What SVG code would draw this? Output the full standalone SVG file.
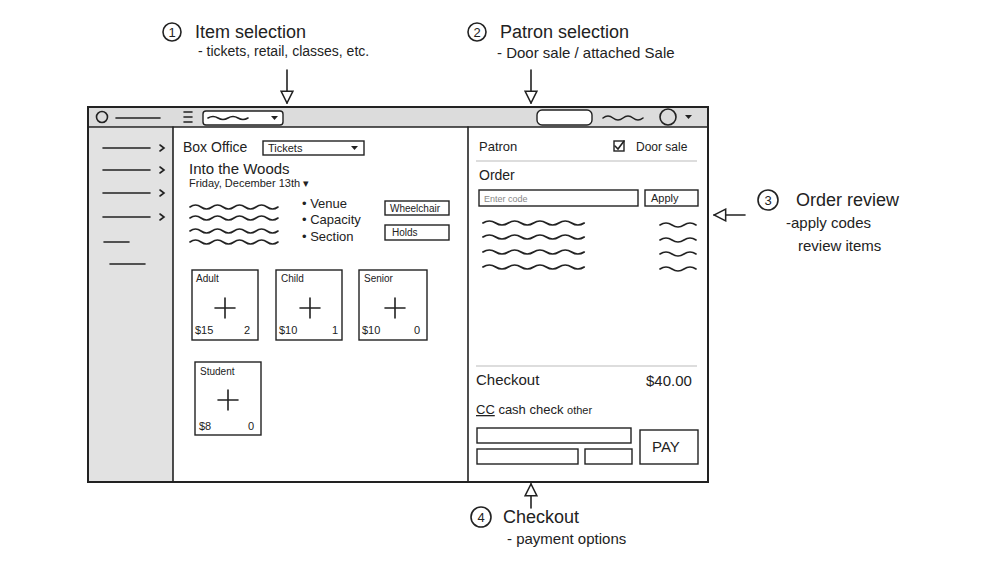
<svg xmlns="http://www.w3.org/2000/svg" width="1000" height="574" viewBox="0 0 1000 574">
<style>
.t{font-family:"Liberation Sans",Arial,sans-serif;fill:#222}
.s{stroke:#222;stroke-width:1.6;fill:none;stroke-linecap:round}
.b{stroke:#222;stroke-width:1.4;fill:#fff}
</style>
<defs>
<marker id="ah" viewBox="0 0 12 12" refX="11" refY="6" markerWidth="14" markerHeight="14" markerUnits="userSpaceOnUse" orient="auto"><path d="M1,1 L11,6 L1,11 Z" fill="#fff" stroke="#222" stroke-width="1.3"/></marker>
<path id="sq" d="M0,0 q5.5,-4 11,0 t11,0 t11,0 t11,0 t11,0 t11,0 t11,0 t11,0" class="s"/>
</defs>
<rect width="1000" height="574" fill="#fff"/>
<g id="window">
<rect x="88" y="107" width="620" height="375" fill="#fff" stroke="#222" stroke-width="2"/>
<rect x="89" y="108" width="618" height="19" fill="#dcdcdc"/>
<line x1="88" y1="127" x2="708" y2="127" class="s"/>
<rect x="89" y="128" width="84" height="353" fill="#e2e2e2"/>
<line x1="173" y1="127" x2="173" y2="482" class="s"/>
<line x1="468" y1="127" x2="468" y2="482" class="s"/>
<circle cx="102" cy="117" r="5.5" class="s"/>
<line x1="116" y1="118" x2="160" y2="118" class="s"/>
<path d="M184,112h8M184,117h8M184,122h8" class="s"/>
<rect x="203" y="111" width="80" height="14" rx="3" class="b"/>
<path d="M208,118 q5,-3 10,0 t10,0 t10,0 t10,0" class="s"/>
<path d="M271,116 h7 l-3.5,4z" fill="#222"/>
<rect x="537" y="110" width="55" height="15" rx="5" class="b"/>
<path d="M603,118 q5,-4 10,0 t10,0 t10,0 t10,0" class="s"/>
<circle cx="668" cy="117" r="8" class="s"/>
<path d="M685,115 h7 l-3.5,4z" fill="#222"/>
</g>
<g id="sidebar">
<path d="M103,148h47M103,170h47M103,193h47M103,217h47M104,242h25M110,264h35" class="s"/>
<path d="M160,145l4,3-4,3M160,167l4,3-4,3M160,190l4,3-4,3M160,214l4,3-4,3" class="s"/>
</g>
<g id="main">
<text x="183" y="152" class="t" font-size="14">Box Office</text>
<rect x="263" y="141" width="101" height="14" class="b"/>
<text x="268" y="152" class="t" font-size="11">Tickets</text>
<path d="M351,146 h7 l-3.5,4z" fill="#222"/>
<text x="189" y="174" class="t" font-size="15">Into the Woods</text>
<text x="189" y="187" class="t" font-size="11">Friday, December 13th ▾</text>
<use href="#sq" x="190" y="207"/><use href="#sq" x="190" y="218"/><use href="#sq" x="190" y="231"/><use href="#sq" x="190" y="242"/>
<text x="302" y="208" class="t" font-size="13">• Venue</text>
<text x="302" y="224" class="t" font-size="13">• Capacity</text>
<text x="302" y="241" class="t" font-size="13">• Section</text>
<rect x="385" y="201" width="64" height="14" class="b"/><text x="390" y="212" class="t" font-size="10">Wheelchair</text>
<rect x="385" y="225" width="64" height="15" class="b"/><text x="392" y="236" class="t" font-size="10">Holds</text>
</g>
<g id="card-adult"><rect x="192" y="270" width="66" height="70" class="b" stroke-width="2"/><text x="196" y="282" class="t" font-size="10">Adult</text><path d="M225,298v20M215,308h20" class="s" stroke-width="2.2"/><text x="195" y="334" class="t" font-size="11">$15</text><text x="244" y="334" class="t" font-size="11">2</text></g>
<g id="card-child"><rect x="276" y="270" width="66" height="70" class="b" stroke-width="2"/><text x="281" y="282" class="t" font-size="10">Child</text><path d="M310,298v20M300,308h20" class="s" stroke-width="2.2"/><text x="279" y="334" class="t" font-size="11">$10</text><text x="332" y="334" class="t" font-size="11">1</text></g>
<g id="card-senior"><rect x="359" y="270" width="68" height="70" class="b" stroke-width="2"/><text x="364" y="282" class="t" font-size="10">Senior</text><path d="M395,298v20M385,308h20" class="s" stroke-width="2.2"/><text x="362" y="334" class="t" font-size="11">$10</text><text x="414" y="334" class="t" font-size="11">0</text></g>
<g id="card-student"><rect x="195" y="362" width="66" height="73" class="b" stroke-width="2"/><text x="200" y="375" class="t" font-size="10">Student</text><path d="M228,390v20M218,400h20" class="s" stroke-width="2.2"/><text x="199" y="430" class="t" font-size="11">$8</text><text x="248" y="430" class="t" font-size="11">0</text></g>
<g id="right-pane">
<text x="479" y="151" class="t" font-size="13">Patron</text>
<rect x="614" y="141" width="10" height="10" class="b"/><path d="M615,146l3,3 6,-8" class="s"/>
<text x="636" y="151" class="t" font-size="12">Door sale</text>
<line x1="476" y1="161" x2="697" y2="161" stroke="#bbb" stroke-width="1.2"/>
<text x="479" y="180" class="t" font-size="14">Order</text>
<rect x="479" y="190" width="159" height="16" class="b"/><text x="484" y="202" font-family="Liberation Sans,Arial,sans-serif" font-size="9" fill="#888">Enter code</text>
<rect x="645" y="190" width="53" height="16" class="b"/><text x="651" y="202" class="t" font-size="11">Apply</text>
<g transform="translate(483,0) scale(1.15,1)"><use href="#sq" y="223"/><use href="#sq" y="237"/><use href="#sq" y="252"/><use href="#sq" y="267"/></g>
<path d="M660,225 q6,-4 12,0 t12,0 t12,0M660,240 q6,-4 12,0 t12,0 t12,0M660,254 q6,-4 12,0 t12,0 t12,0M660,269 q6,-4 12,0 t12,0 t12,0" class="s"/>
<line x1="476" y1="366" x2="697" y2="366" stroke="#bbb" stroke-width="1.2"/>
<text x="476" y="385" class="t" font-size="15">Checkout</text>
<text x="646" y="386" class="t" font-size="15">$40.00</text>
<text x="476" y="414" class="t" font-size="13"><tspan text-decoration="underline">CC</tspan>  cash  check  <tspan font-size="11">other</tspan></text>
<rect x="477" y="428" width="154" height="15" class="b"/>
<rect x="477" y="449" width="101" height="15" class="b"/>
<rect x="585" y="449" width="47" height="15" class="b"/>
<rect x="640" y="430" width="58" height="34" class="b"/><text x="652" y="452" class="t" font-size="15">PAY</text>
</g>
<g id="annotations">
<circle cx="172" cy="32" r="9" class="s"/><text x="172" y="37" text-anchor="middle" class="t" font-size="13">1</text>
<text x="195" y="38" class="t" font-size="18">Item selection</text>
<text x="198" y="56" class="t" font-size="14">- tickets, retail, classes, etc.</text>
<circle cx="477" cy="32" r="9" class="s"/><text x="477" y="37" text-anchor="middle" class="t" font-size="13">2</text>
<text x="500" y="38" class="t" font-size="18">Patron selection</text>
<text x="497" y="58" class="t" font-size="15">- Door sale / attached Sale</text>
<circle cx="768" cy="200" r="10" class="s"/><text x="768" y="205" text-anchor="middle" class="t" font-size="13">3</text>
<text x="796" y="206" class="t" font-size="18">Order review</text>
<text x="786" y="228" class="t" font-size="15">-apply codes</text>
<text x="798" y="251" class="t" font-size="15">review items</text>
<circle cx="481" cy="517" r="10" class="s"/><text x="481" y="522" text-anchor="middle" class="t" font-size="13">4</text>
<text x="503" y="523" class="t" font-size="18">Checkout</text>
<text x="507" y="544" class="t" font-size="15">- payment options</text>
</g>
<g id="connectors">
<line x1="287" y1="70" x2="287" y2="103" class="s" marker-end="url(#ah)"/>
<line x1="531" y1="70" x2="531" y2="103" class="s" marker-end="url(#ah)"/>
<line x1="745" y1="215" x2="714" y2="215" class="s" marker-end="url(#ah)"/>
<line x1="531" y1="508" x2="531" y2="484" class="s" marker-end="url(#ah)"/>
</g>
</svg>
